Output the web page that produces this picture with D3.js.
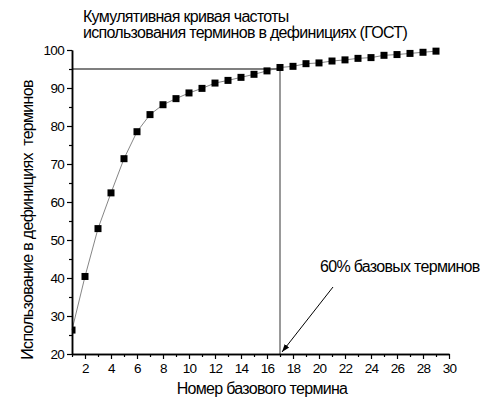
<!DOCTYPE html>
<html>
<head>
<meta charset="utf-8">
<script src="https://cdn.jsdelivr.net/npm/d3@7"></script>
<style>
  body { margin: 0; background: #fff; }
  text { font-family: "Liberation Sans", Arial, sans-serif; }
</style>
</head>
<body>
<div id="chart"></div>
<script>
// term number (x) and cumulative usage, % (y)
const termNumbers = [1, 2, 3, 4, 5, 6, 7, 8, 9, 10, 11, 12, 13, 14, 15, 16, 17, 18, 19, 20, 21, 22, 23, 24, 25, 26, 27, 28, 29];
const usage = [26.3, 40.4, 53.0, 62.4, 71.4, 78.5, 83.0, 85.6, 87.2, 88.7, 89.9, 91.3, 92.0, 92.8, 93.6, 94.5, 95.4, 95.7, 96.4, 96.6, 97.1, 97.4, 97.8, 98.0, 98.6, 98.8, 99.1, 99.4, 99.7];
const xTicks = [2, 4, 6, 8, 10, 12, 14, 16, 18, 20, 22, 24, 26, 28, 30];
const yTicks = [20, 30, 40, 50, 60, 70, 80, 90, 100];
const titleLines = ["Кумулятивная кривая частоты", "использования терминов в дефинициях (ГОСТ)"];
const markTerm = 17;
const markLevel = 95;
const markLabel = "60% базовых терминов";

const width = 485;
const height = 399;
const margin = {top: 50, right: 36, bottom: 45, left: 72};

const svg = d3.select("#chart")
    .append("svg")
    .attr("width", width)
    .attr("height", height);

const x = d3.scaleLinear().domain([1, 30]).range([margin.left, width - margin.right]);
const y = d3.scaleLinear().domain([20, 100]).range([height - margin.bottom, margin.top]);

// clip so the first marker is cut by the y axis
svg.append("clipPath")
    .attr("id", "plot-clip")
    .append("rect")
    .attr("x", x(1)).attr("y", 0)
    .attr("width", width - x(1)).attr("height", y(20));

// title
svg.append("g")
    .selectAll("text")
    .data(titleLines)
    .join("text")
    .attr("x", 83)
    .attr("y", (d, i) => 22 + i * 16)
    .attr("font-size", 16)
    .attr("letter-spacing", -0.7)
    .text(d => d);

// reference lines: 95% level and term 17
svg.append("line")
    .attr("x1", x(1)).attr("x2", x(markTerm))
    .attr("y1", y(markLevel)).attr("y2", y(markLevel))
    .attr("stroke", "#000").attr("stroke-width", 1.2);
svg.append("line")
    .attr("x1", x(markTerm)).attr("x2", x(markTerm))
    .attr("y1", y(markLevel)).attr("y2", y(20))
    .attr("stroke", "#777").attr("stroke-width", 1.5);

// curve
const line = d3.line()
    .x((d, i) => x(termNumbers[i]))
    .y(d => y(d));

svg.append("path")
    .datum(usage)
    .attr("d", line)
    .attr("fill", "none")
    .attr("stroke", "#666")
    .attr("stroke-width", 0.8);

svg.append("g")
    .attr("clip-path", "url(#plot-clip)")
    .selectAll("rect")
    .data(usage)
    .join("rect")
    .attr("x", (d, i) => x(termNumbers[i]) - 3.5)
    .attr("y", d => y(d) - 3.5)
    .attr("width", 7)
    .attr("height", 7)
    .attr("fill", "#000");

// axes
svg.append("g")
    .attr("transform", `translate(0, ${y(20)})`)
    .call(d3.axisBottom(x).tickValues(xTicks).tickSize(5).tickPadding(4).tickSizeOuter(0));
svg.append("g")
    .attr("transform", `translate(0, ${y(20)})`)
    .call(d3.axisBottom(x).tickValues(termNumbers.filter(d => d % 2 === 1)).tickSize(3).tickFormat("").tickSizeOuter(0));

svg.append("g")
    .attr("transform", `translate(${x(1)}, 0)`)
    .call(d3.axisLeft(y).tickValues(yTicks).tickSize(5).tickPadding(3).tickSizeOuter(0));
svg.append("g")
    .attr("transform", `translate(${x(1)}, 0)`)
    .call(d3.axisLeft(y).tickValues(yTicks.slice(0, -1).map(d => d + 5)).tickSize(3).tickFormat("").tickSizeOuter(0));

svg.selectAll(".domain").attr("stroke-width", 1.5);
svg.selectAll(".tick line").attr("stroke-width", 1.2);
svg.selectAll(".tick text")
    .attr("font-size", 13.5)
    .attr("letter-spacing", -0.7)
    .attr("font-family", "Liberation Sans, Arial, sans-serif");

// axis titles
svg.append("text")
    .attr("x", 262)
    .attr("y", 394)
    .attr("text-anchor", "middle")
    .attr("font-size", 16)
    .attr("letter-spacing", -0.7)
    .text("Номер базового термина");

svg.append("text")
    .attr("transform", `translate(33, 220) rotate(-90)`)
    .attr("text-anchor", "middle")
    .attr("font-size", 16)
    .attr("letter-spacing", -0.7)
    .style("white-space", "pre")
    .text("Использование в дефинициях  терминов");

// annotation with arrow
svg.append("defs")
    .append("marker")
    .attr("id", "arrow")
    .attr("viewBox", "0 0 10 10")
    .attr("refX", 10).attr("refY", 5)
    .attr("markerWidth", 8).attr("markerHeight", 8)
    .attr("orient", "auto")
    .append("path")
    .attr("d", "M0,1.5 L10,5 L0,8.5 Z")
    .attr("fill", "#000");

svg.append("line")
    .attr("x1", 333).attr("y1", 287)
    .attr("x2", x(markTerm) + 2).attr("y2", y(20) - 2)
    .attr("stroke", "#000")
    .attr("stroke-width", 1)
    .attr("marker-end", "url(#arrow)");

svg.append("text")
    .attr("x", 320)
    .attr("y", 272)
    .attr("font-size", 16)
    .attr("letter-spacing", -0.7)
    .text(markLabel);
</script>
</body>
</html>
